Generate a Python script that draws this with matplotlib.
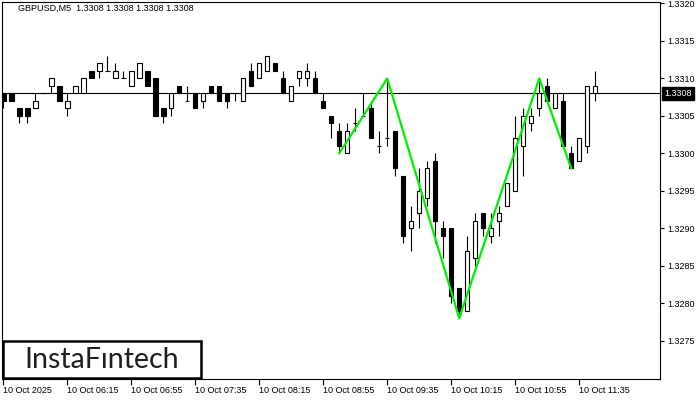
import matplotlib
matplotlib.use('Agg')
import matplotlib.pyplot as plt
import matplotlib.transforms as mtransforms
from matplotlib.patches import Rectangle

# 5-minute GBPUSD candles, 05:35 .. 11:45
opens = [1.3308, 1.3308, 1.3306, 1.3306, 1.3306, 1.3308, 1.3309, 1.3309, 1.3306, 1.3308,
         1.3308, 1.3311, 1.3311, 1.3311, 1.3310, 1.3310, 1.3309, 1.3310, 1.3311, 1.3310,
         1.3306, 1.3306, 1.3309, 1.3307, 1.3308, 1.3307, 1.3309, 1.3309, 1.3308, 1.3308,
         1.3307, 1.3311, 1.3310, 1.3311, 1.3312, 1.3310, 1.3307, 1.3310, 1.3310, 1.3310,
         1.3307, 1.3305, 1.3303, 1.3300, 1.3304, 1.3305, 1.3306, 1.3301, 1.3302, 1.3303,
         1.3297, 1.3290, 1.3292, 1.3294, 1.3299, 1.3290, 1.3290, 1.3282, 1.3279, 1.3286,
         1.3292, 1.3289, 1.3291, 1.3293, 1.3295, 1.3301, 1.3304, 1.3306, 1.3309, 1.3306,
         1.3307, 1.3300, 1.3299, 1.3301, 1.3308]
highs = [1.3308, 1.3308, 1.3306, 1.3306, 1.3308, 1.3308, 1.3310, 1.3309, 1.3308, 1.3309,
         1.3310, 1.3311, 1.3312, 1.3313, 1.3312, 1.3311, 1.3311, 1.3312, 1.3311, 1.3310,
         1.3306, 1.3308, 1.3309, 1.3309, 1.3308, 1.3308, 1.3309, 1.3309, 1.3308, 1.3308,
         1.3310, 1.3312, 1.3312, 1.3313, 1.3312, 1.3311, 1.3309, 1.3311, 1.3312, 1.3311,
         1.3308, 1.3305, 1.3304, 1.3304, 1.3306, 1.3308, 1.3307, 1.3303, 1.3310, 1.3303,
         1.3297, 1.3293, 1.3298, 1.3299, 1.3300, 1.3291, 1.3290, 1.3282, 1.3289, 1.3292,
         1.3292, 1.3292, 1.3293, 1.3296, 1.3305, 1.3306, 1.3306, 1.3310, 1.3310, 1.3308,
         1.3308, 1.3301, 1.3302, 1.3309, 1.3311]
lows = [1.3306, 1.3307, 1.3304, 1.3304, 1.3306, 1.3308, 1.3308, 1.3307, 1.3305, 1.3308,
        1.3308, 1.3310, 1.3310, 1.3311, 1.3310, 1.3310, 1.3309, 1.3310, 1.3309, 1.3305,
        1.3304, 1.3305, 1.3308, 1.3307, 1.3306, 1.3306, 1.3308, 1.3307, 1.3306, 1.3307,
        1.3307, 1.3309, 1.3310, 1.3311, 1.3311, 1.3308, 1.3307, 1.3309, 1.3309, 1.3308,
        1.3306, 1.3302, 1.3300, 1.3300, 1.3303, 1.3305, 1.3302, 1.3300, 1.3301, 1.3297,
        1.3288, 1.3287, 1.3290, 1.3293, 1.3288, 1.3286, 1.3280, 1.3278, 1.3279, 1.3285,
        1.3289, 1.3288, 1.3289, 1.3293, 1.3295, 1.3297, 1.3303, 1.3305, 1.3307, 1.3306,
        1.3301, 1.3298, 1.3299, 1.3300, 1.3307]
closes = [1.3307, 1.3307, 1.3305, 1.3305, 1.3307, 1.3308, 1.3310, 1.3307, 1.3307, 1.3309,
          1.3310, 1.3310, 1.3312, 1.3311, 1.3311, 1.3310, 1.3311, 1.3312, 1.3309, 1.3305,
          1.3305, 1.3308, 1.3308, 1.3307, 1.3306, 1.3308, 1.3308, 1.3307, 1.3307, 1.3308,
          1.3310, 1.3309, 1.3312, 1.3313, 1.3311, 1.3308, 1.3309, 1.3311, 1.3311, 1.3308,
          1.3306, 1.3304, 1.3301, 1.3303, 1.3304, 1.3305, 1.3302, 1.3301, 1.3302, 1.3298,
          1.3289, 1.3291, 1.3295, 1.3298, 1.3291, 1.3289, 1.3281, 1.3279, 1.3287, 1.3291,
          1.3290, 1.3290, 1.3292, 1.3296, 1.3302, 1.3305, 1.3305, 1.3308, 1.3307, 1.3308,
          1.3301, 1.3298, 1.3302, 1.3309, 1.3309]

tick_pos = [0, 8, 16, 24, 32, 40, 48, 56, 64, 72]
tick_labels = ['10 Oct 2025', '10 Oct 06:15', '10 Oct 06:55', '10 Oct 07:35', '10 Oct 08:15',
               '10 Oct 08:55', '10 Oct 09:35', '10 Oct 10:15', '10 Oct 10:55', '10 Oct 11:35']

# head and shoulders outline
pattern_idx = [42, 48, 57, 67, 71]
pattern_px = [1.3300, 1.3310, 1.3278, 1.3310, 1.3298]

last_price = 1.3308
title = 'GBPUSD,M5  1.3308 1.3308 1.3308 1.3308'

W, H = 700, 400
fig = plt.figure(figsize=(7, 4), dpi=100)
ax = fig.add_axes([2 / W, 21 / H, 658 / W, 377 / H])

font = 'Liberation Sans'
fs = 6.5

xs = list(range(len(opens)))
ax.vlines(xs, lows, highs, color='black', lw=0.8, zorder=2)
for i in xs:
    o, c = opens[i], closes[i]
    fill = 'white' if c >= o else 'black'
    ax.bar(i, abs(c - o), bottom=min(o, c), width=0.56, color=fill,
           edgecolor='black', linewidth=0.8, zorder=3)

ax.plot(pattern_idx, pattern_px, color='#00ee00', lw=1.6, zorder=4)

ax.axhline(last_price, color='black', lw=0.8, zorder=1)

ax.set_xlim(-0.16, 82.1)
ax.set_ylim(1.32699, 1.33202)

ax.yaxis.tick_right()
yt = [1.3275 + 0.0005 * k for k in range(10)]
ax.set_yticks(yt)
ax.set_yticklabels(['%.4f' % v for v in yt], fontsize=fs, family=font)
ax.tick_params(axis='y', direction='out', length=3, width=0.8, pad=2)

ax.set_xticks(tick_pos)
ax.set_xticklabels(tick_labels, fontsize=fs, family=font, ha='left')
ax.tick_params(axis='x', direction='out', length=4, width=0.8, pad=1)

for s in ax.spines.values():
    s.set_linewidth(0.8)

# price tag on the right
trans = mtransforms.blended_transform_factory(ax.transAxes, ax.transData)
ax.text(1.006, last_price, '%.4f' % last_price, transform=trans, fontsize=fs, family=font,
        color='white', va='center', ha='left', zorder=5, clip_on=False,
        bbox=dict(boxstyle='square,pad=0.25', fc='black', ec='black'))

ax.text(16 / 658, 1 - 2 / 377, title, transform=ax.transAxes, fontsize=fs, family=font,
        va='top', ha='left')

# logo box
fig.add_artist(Rectangle((3 / W, 22 / H), 198 / W, 37 / H, transform=fig.transFigure,
                         fc='white', ec='black', lw=1.8, zorder=6))
fig.text(102 / W, 40 / H, 'InstaFıntech', fontsize=20.5, family='Lato', color='#1e1e1e',
         ha='center', va='center', zorder=7)

fig.savefig('out.png', dpi=100)
